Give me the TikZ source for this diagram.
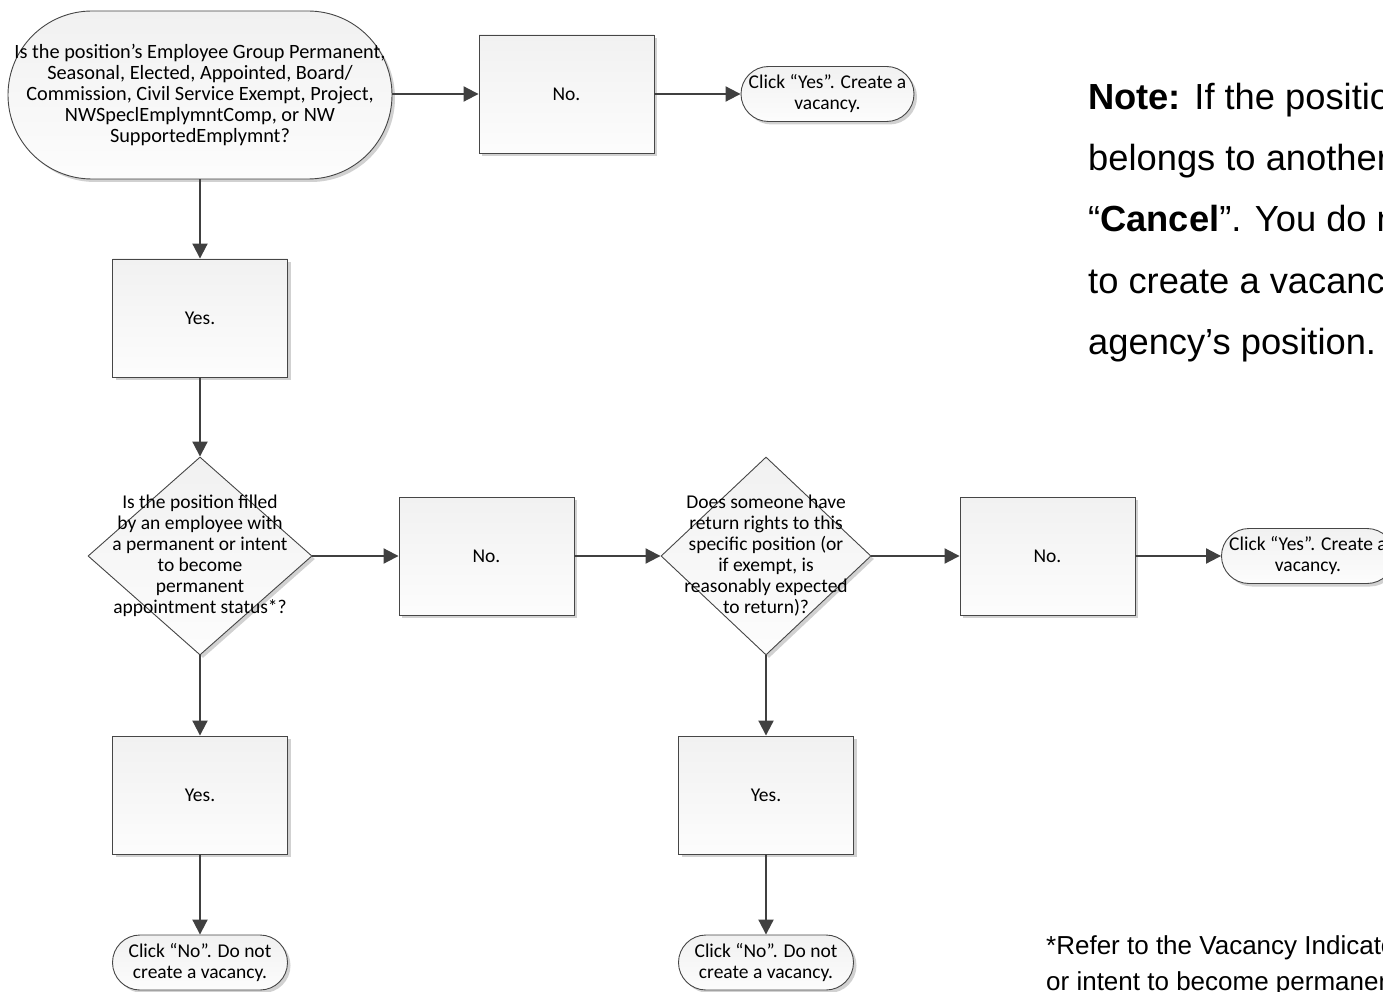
\documentclass[tikz,border=0pt]{standalone}
\usepackage{fontspec}
\setmainfont{Liberation Sans}
\newfontfamily\calfont{Carlito}
\usetikzlibrary{shapes.geometric,shadows,arrows.meta}
\definecolor{edgec}{RGB}{70,70,70}
\definecolor{arrc}{RGB}{64,64,64}
\begin{document}
\begin{tikzpicture}[x=1pt,y=-1pt,
  base/.style={draw=edgec, line width=0.9pt, top color=gray!11, bottom color=gray!2,
    drop shadow={shadow xshift=3pt, shadow yshift=-3pt, fill=black!18, opacity=1},
    font=\calfont\fontsize{19.5}{21}\selectfont, align=center, inner sep=0pt, text=black},
  procbox/.style={base, rectangle, minimum width=175pt, minimum height=118pt},
  term/.style={base, rectangle, rounded corners=27.5pt, minimum width=173pt, minimum height=55pt},
  bigterm/.style={base, rectangle, rounded corners=84pt, minimum width=384pt, minimum height=168pt,
    font=\calfont\fontsize{20.3}{21.2}\selectfont},
  decis/.style={base, diamond, minimum width=#1, minimum height=198pt},
  dtext/.style={font=\calfont\fontsize{19.5}{21}\selectfont, align=center, inner sep=0pt, text=black},
  flow/.style={draw=arrc, line width=2pt, -{Triangle[length=15pt,width=15pt]}},
  notetext/.style={font=\fontsize{36.3}{62}\selectfont, inner sep=0pt, anchor=base west, text=black},
  foottext/.style={font=\fontsize{26}{36}\selectfont, inner sep=0pt, anchor=base west, text=black}
]
\useasboundingbox (0,0) rectangle (1383,992);
\clip (0,0) rectangle (1383,992);

% nodes
\node[bigterm] (t0) at (200,95) {Is the position’s Employee Group Permanent,\\Seasonal, Elected, Appointed, Board/\\Commission, Civil Service Exempt, Project,\\NWSpeclEmplymntComp, or NW\\SupportedEmplymnt?};
\node[procbox] (b1) at (566.5,94) {No.};
\node[term] (t1) at (827.5,94) {Click “Yes”. Create a\\vacancy.};

\node[procbox] (b2) at (200,318) {Yes.};

\node[decis=224pt] (d1) at (200,556) {};
\node[dtext] (d1t) at (200,556) {Is the position filled\\by an employee with\\a permanent or intent\\to become\\permanent\\appointment status*?};
\node[procbox] (b3) at (486.5,556) {No.};
\node[decis=210pt] (d2) at (766,556) {};
\node[dtext] (d2t) at (766,556) {Does someone have\\return rights to this\\specific position (or\\if exempt, is\\reasonably expected\\to return)?};
\node[procbox] (b4) at (1047.5,556) {No.};
\node[term] (t2) at (1308,556) {Click “Yes”. Create a\\vacancy.};

\node[procbox] (b5) at (200,795) {Yes.};
\node[procbox] (b6) at (766,795) {Yes.};
\node[term, minimum width=175pt] (t3) at (200,962.5) {Click “No”. Do not\\create a vacancy.};
\node[term, minimum width=175pt] (t4) at (766,962.5) {Click “No”. Do not\\create a vacancy.};

% connectors
\draw[flow] (t0.east |- b1.west) -- (b1.west);
\draw[flow] (b1.east) -- (t1.west);
\draw[flow] (t0.south) -- (b2.north);
\draw[flow] (b2.south) -- (d1.north);
\draw[flow] (d1.east) -- (b3.west);
\draw[flow] (b3.east) -- (d2.west);
\draw[flow] (d2.east) -- (b4.west);
\draw[flow] (b4.east) -- (t2.west);
\draw[flow] (d1.south) -- (b5.north);
\draw[flow] (b5.south) -- (t3.north);
\draw[flow] (d2.south) -- (b6.north);
\draw[flow] (b6.south) -- (t4.north);

% note
\node[notetext] (n1) at (1088,110) {\textbf{Note:} If the position};
\node[notetext] (n2) at (1088,171) {belongs to another};
\node[notetext] (n3) at (1088,232) {“\textbf{Cancel}”. You do not};
\node[notetext] (n4) at (1088,293) {to create a vacancy};
\node[notetext] (n5) at (1088,354) {agency’s position.};

% footnote
\node[foottext] (f1) at (1046,954) {*Refer to the Vacancy Indicator};
\node[foottext] (f2) at (1046,990) {or intent to become permanent};
\end{tikzpicture}
\end{document}
